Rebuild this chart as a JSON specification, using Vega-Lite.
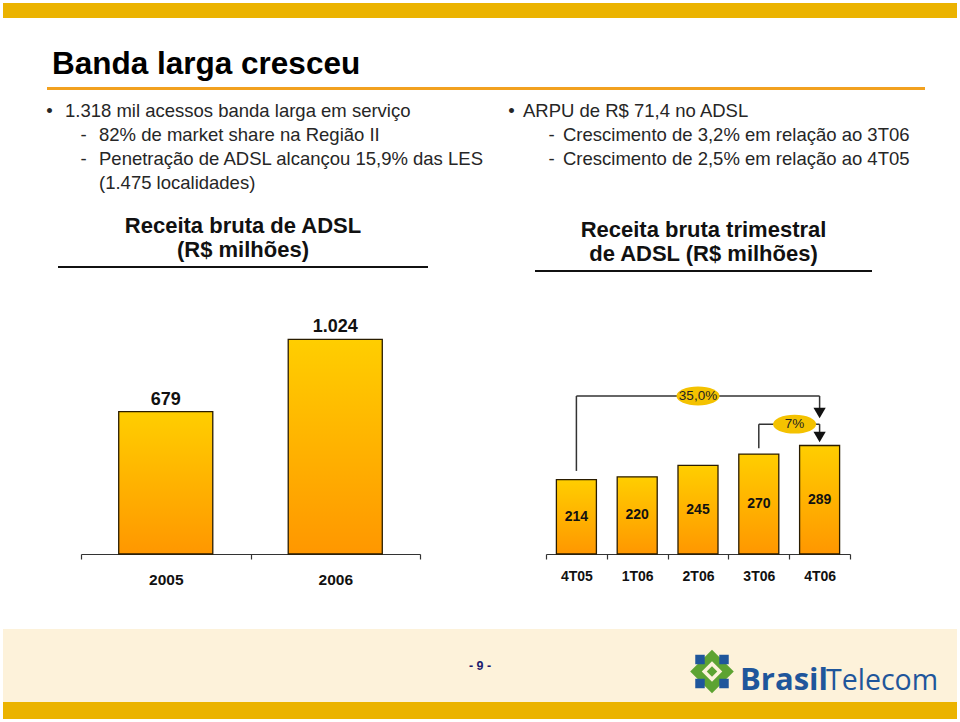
{
  "$schema": "https://vega.github.io/schema/vega-lite/v6.json",
  "background": "white",
  "padding": {"left": 3, "top": 3, "right": 3, "bottom": 4},
  "spacing": 0,
  "config": {
    "view": {"stroke": null},
    "font": "Liberation Sans",
    "concat": {"spacing": 0},
    "locale": {"number": {"decimal": ",", "thousands": ".", "grouping": [3], "currency": ["R$ ", ""]}}
  },
  "datasets": {
    "vazio": [],
    "topicos_esq": [
      {"linha": 1, "nivel": 1, "marcador": "•", "texto": "1.318 mil acessos banda larga em serviço"},
      {"linha": 2, "nivel": 2, "marcador": "-", "texto": "82% de market share na Região II"},
      {"linha": 3, "nivel": 2, "marcador": "-", "texto": "Penetração de ADSL alcançou 15,9% das LES"},
      {"linha": 4, "nivel": 2, "marcador": "", "texto": "(1.475 localidades)"}
    ],
    "topicos_dir": [
      {"linha": 1, "nivel": 1, "marcador": "•", "texto": "ARPU de R$ 71,4 no ADSL"},
      {"linha": 2, "nivel": 2, "marcador": "-", "texto": "Crescimento de 3,2% em relação ao 3T06"},
      {"linha": 3, "nivel": 2, "marcador": "-", "texto": "Crescimento de 2,5% em relação ao 4T05"}
    ],
    "receita_anual": [
      {"ano": "2005", "receita": 679},
      {"ano": "2006", "receita": 1024}
    ],
    "receita_trimestral": [
      {"trimestre": "4T05", "receita": 214},
      {"trimestre": "1T06", "receita": 220},
      {"trimestre": "2T06", "receita": 245},
      {"trimestre": "3T06", "receita": 270},
      {"trimestre": "4T06", "receita": 289}
    ],
    "variacao": [
      {"rotulo": "35,0%", "de": "4T05", "ate": "4T06", "rotulo_em": "2T06", "base_de": 233, "altura": 398, "base_ate": 371.5},
      {"rotulo": "7%", "de": "3T06", "ate": "4T06", "rotulo_em": "4T06", "base_de": 283, "altura": 336, "base_ate": 318.7}
    ],
    "logo": [
      {"parte": "Brasil"},
      {"parte": "Telecom"}
    ]
  },
  "vconcat": [
    {"width": 954, "height": 15, "view": {"fill": "#EBB300"}, "data": {"name": "vazio"}, "mark": "point"},
    {"width": 954, "height": 29.5, "data": {"name": "vazio"}, "mark": "point"},
    {
      "spacing": 0, "bounds": "flush",
      "hconcat": [
        {"width": 44, "height": 3, "data": {"name": "vazio"}, "mark": "point"},
        {
          "width": 878, "height": 3, "view": {"fill": "#F2A11F"}, "data": {"name": "vazio"}, "mark": "point",
          "title": {"text": "Banda larga cresceu", "anchor": "start", "fontSize": 31.5, "fontWeight": "bold", "color": "#000000", "font": "Liberation Sans", "offset": 7, "dx": 5}
        }
      ]
    },
    {
      "spacing": 0,
      "hconcat": [
        {
          "spacing": 0,
          "vconcat": [
            {"width": 490, "height": 9, "data": {"name": "vazio"}, "mark": "point"},
            {
              "width": 490, "height": 96, "data": {"name": "topicos_esq"},
              "encoding": {
                "y": {"field": "linha", "type": "ordinal", "scale": {"domain": [1, 2, 3, 4], "padding": 0.5}, "axis": null},
                "x": {"field": "nivel", "type": "ordinal", "scale": {"domain": [1, 2], "range": [46.5, 80.5], "padding": 0}, "axis": null}
              },
              "layer": [
                {"mark": {"type": "text", "align": "center", "baseline": "middle", "fontSize": 18.5, "color": "#262626"}, "encoding": {"text": {"field": "marcador"}}},
                {"mark": {"type": "text", "align": "left", "baseline": "middle", "dx": 15.5, "fontSize": 18.5, "color": "#262626"}, "encoding": {"text": {"field": "texto"}}}
              ]
            },
            {"width": 490, "height": 20, "data": {"name": "vazio"}, "mark": "point"},
            {
              "spacing": 0, "bounds": "flush",
              "hconcat": [
                {"width": 55, "height": 2, "data": {"name": "vazio"}, "mark": "point"},
                {
                  "width": 370, "height": 2, "view": {"fill": "#111111"}, "data": {"name": "vazio"}, "mark": "point",
                  "title": {"text": ["Receita bruta de ADSL", "(R$ milhões)"], "anchor": "middle", "fontSize": 22, "fontWeight": "bold", "color": "#111111", "font": "Liberation Sans", "lineHeight": 24, "offset": 4}
                }
              ]
            },
            {"width": 490, "height": 45, "data": {"name": "vazio"}, "mark": "point"},
            {
              "spacing": 0, "bounds": "flush",
              "hconcat": [
                {"width": 78, "height": 241, "data": {"name": "vazio"}, "mark": "point"},
                {
                  "width": 339, "height": 241, "data": {"name": "receita_anual"},
                  "encoding": {
                    "x": {
                      "field": "ano", "type": "nominal", "title": null,
                      "scale": {"paddingInner": 0, "paddingOuter": 0},
                      "axis": {"labelAngle": 0, "tickBand": "extent", "domainColor": "#333333", "domainWidth": 1.2, "tickColor": "#333333", "tickWidth": 1.2, "tickSize": 5, "labelFontSize": 15.5, "labelFontWeight": "bold", "labelColor": "#111111", "labelPadding": 13, "labelFont": "Liberation Sans", "grid": false}
                    },
                    "y": {"field": "receita", "type": "quantitative", "scale": {"domain": [0, 1150], "nice": false}, "axis": null}
                  },
                  "layer": [
                    {
                      "mark": {
                        "type": "bar", "width": {"band": 0.555},
                        "fill": {"gradient": "linear", "x1": 0, "y1": 0, "x2": 0, "y2": 1, "stops": [{"offset": 0, "color": "#FFCE00"}, {"offset": 1, "color": "#FF9700"}]},
                        "stroke": "#2a1c00", "strokeWidth": 1.3
                      }
                    },
                    {
                      "mark": {"type": "text", "baseline": "middle", "dy": -12, "fontSize": 18, "fontWeight": "bold", "color": "#111111"},
                      "encoding": {"text": {"field": "receita", "type": "quantitative", "format": ",d"}}
                    }
                  ]
                }
              ]
            }
          ]
        },
        {
          "spacing": 0,
          "vconcat": [
            {"width": 464, "height": 9, "data": {"name": "vazio"}, "mark": "point"},
            {
              "width": 464, "height": 96, "data": {"name": "topicos_dir"},
              "encoding": {
                "y": {"field": "linha", "type": "ordinal", "scale": {"domain": [1, 2, 3, 4], "padding": 0.5}, "axis": null},
                "x": {"field": "nivel", "type": "ordinal", "scale": {"domain": [1, 2], "range": [18.5, 58.5], "padding": 0}, "axis": null}
              },
              "layer": [
                {"mark": {"type": "text", "align": "center", "baseline": "middle", "fontSize": 18.5, "color": "#262626"}, "encoding": {"text": {"field": "marcador"}}},
                {"mark": {"type": "text", "align": "left", "baseline": "middle", "dx": 11.5, "fontSize": 18.5, "color": "#262626"}, "encoding": {"text": {"field": "texto"}}}
              ]
            },
            {"width": 464, "height": 24, "data": {"name": "vazio"}, "mark": "point"},
            {
              "spacing": 0, "bounds": "flush",
              "hconcat": [
                {"width": 42, "height": 2, "data": {"name": "vazio"}, "mark": "point"},
                {
                  "width": 337, "height": 2, "view": {"fill": "#111111"}, "data": {"name": "vazio"}, "mark": "point",
                  "title": {"text": ["Receita bruta trimestral", "de ADSL (R$ milhões)"], "anchor": "middle", "fontSize": 22, "fontWeight": "bold", "color": "#111111", "font": "Liberation Sans", "lineHeight": 24, "offset": 4}
                }
              ]
            },
            {"width": 464, "height": 114, "data": {"name": "vazio"}, "mark": "point"},
            {
              "spacing": 0, "bounds": "flush",
              "hconcat": [
                {"width": 53, "height": 168, "data": {"name": "vazio"}, "mark": "point"},
                {
                  "width": 304, "height": 168,
                  "resolve": {"scale": {"y": "independent"}},
                  "layer": [
                    {
                      "data": {"name": "receita_trimestral"},
                      "mark": {
                        "type": "bar", "width": {"band": 0.658},
                        "fill": {"gradient": "linear", "x1": 0, "y1": 0, "x2": 0, "y2": 1, "stops": [{"offset": 0, "color": "#FFCE00"}, {"offset": 1, "color": "#FF9700"}]},
                        "stroke": "#2a1c00", "strokeWidth": 1.3
                      },
                      "encoding": {
                        "x": {
                          "field": "trimestre", "type": "ordinal", "title": null,
                          "scale": {"domain": ["4T05", "1T06", "2T06", "3T06", "4T06"], "paddingInner": 0, "paddingOuter": 0},
                          "axis": {"labelAngle": 0, "tickBand": "extent", "domainColor": "#333333", "domainWidth": 1.2, "tickColor": "#333333", "tickWidth": 1.2, "tickSize": 5, "labelFontSize": 14, "labelFontWeight": "bold", "labelColor": "#111111", "labelPadding": 10, "labelFont": "Liberation Sans", "grid": false}
                        },
                        "y": {"field": "receita", "type": "quantitative", "scale": {"domain": [50, 420], "zero": false, "nice": false}, "axis": null},
                        "y2": {"datum": 50}
                      }
                    },
                    {
                      "data": {"name": "receita_trimestral"},
                      "mark": {"type": "text", "baseline": "middle", "fontSize": 14, "fontWeight": "bold", "color": "#111111"},
                      "encoding": {
                        "x": {"field": "trimestre", "type": "ordinal", "title": null},
                        "y": {"field": "receita", "type": "quantitative", "scale": {"domain": [50, 790], "zero": false, "nice": false}, "axis": null},
                        "text": {"field": "receita", "type": "quantitative", "format": ",d"}
                      }
                    },
                    {
                      "data": {"name": "variacao"},
                      "mark": {"type": "rule", "color": "#333333", "strokeWidth": 1.5},
                      "encoding": {
                        "x": {"field": "de", "type": "ordinal", "title": null},
                        "y": {"field": "base_de", "type": "quantitative", "scale": {"domain": [50, 420], "zero": false, "nice": false}, "axis": null},
                        "y2": {"field": "altura"}
                      }
                    },
                    {
                      "data": {"name": "variacao"},
                      "mark": {"type": "rule", "color": "#333333", "strokeWidth": 1.5},
                      "encoding": {
                        "x": {"field": "de", "type": "ordinal", "title": null},
                        "x2": {"field": "ate"},
                        "y": {"field": "altura", "type": "quantitative", "scale": {"domain": [50, 420], "zero": false, "nice": false}, "axis": null}
                      }
                    },
                    {
                      "data": {"name": "variacao"},
                      "mark": {"type": "rule", "color": "#333333", "strokeWidth": 1.5},
                      "encoding": {
                        "x": {"field": "ate", "type": "ordinal", "title": null},
                        "y": {"field": "altura", "type": "quantitative", "scale": {"domain": [50, 420], "zero": false, "nice": false}, "axis": null},
                        "y2": {"field": "base_ate"}
                      }
                    },
                    {
                      "data": {"name": "variacao"},
                      "mark": {"type": "point", "shape": "triangle-down", "size": 150, "filled": true, "fill": "#111111", "opacity": 1, "strokeWidth": 0, "yOffset": 5},
                      "encoding": {
                        "x": {"field": "ate", "type": "ordinal", "title": null},
                        "y": {"field": "base_ate", "type": "quantitative", "scale": {"domain": [50, 420], "zero": false, "nice": false}, "axis": null}
                      }
                    },
                    {
                      "data": {"name": "variacao"},
                      "transform": [{"filter": "datum.rotulo === '35,0%'"}],
                      "mark": {"type": "point", "shape": "M -1 0 C -1 -0.243 -0.552 -0.44 0 -0.44 C 0.552 -0.44 1 -0.243 1 0 C 1 0.243 0.552 0.44 0 0.44 C -0.552 0.44 -1 0.243 -1 0 Z", "size": 1849, "filled": true, "fill": "#F4C200", "opacity": 1, "strokeWidth": 0},
                      "encoding": {
                        "x": {"field": "rotulo_em", "type": "ordinal", "title": null},
                        "y": {"field": "altura", "type": "quantitative", "scale": {"domain": [50, 420], "zero": false, "nice": false}, "axis": null}
                      }
                    },
                    {
                      "data": {"name": "variacao"},
                      "transform": [{"filter": "datum.rotulo === '35,0%'"}],
                      "mark": {"type": "text", "baseline": "middle", "fontSize": 13.5, "color": "#222222"},
                      "encoding": {
                        "x": {"field": "rotulo_em", "type": "ordinal", "title": null},
                        "y": {"field": "altura", "type": "quantitative", "scale": {"domain": [50, 420], "zero": false, "nice": false}, "axis": null},
                        "text": {"field": "rotulo"}
                      }
                    },
                    {
                      "data": {"name": "variacao"},
                      "transform": [{"filter": "datum.rotulo === '7%'"}],
                      "mark": {"type": "point", "shape": "M -1 0 C -1 -0.243 -0.552 -0.44 0 -0.44 C 0.552 -0.44 1 -0.243 1 0 C 1 0.243 0.552 0.44 0 0.44 C -0.552 0.44 -1 0.243 -1 0 Z", "size": 1849, "filled": true, "fill": "#F4C200", "opacity": 1, "strokeWidth": 0, "xOffset": -25},
                      "encoding": {
                        "x": {"field": "rotulo_em", "type": "ordinal", "title": null},
                        "y": {"field": "altura", "type": "quantitative", "scale": {"domain": [50, 420], "zero": false, "nice": false}, "axis": null}
                      }
                    },
                    {
                      "data": {"name": "variacao"},
                      "transform": [{"filter": "datum.rotulo === '7%'"}],
                      "mark": {"type": "text", "baseline": "middle", "fontSize": 13.5, "color": "#222222", "xOffset": -25},
                      "encoding": {
                        "x": {"field": "rotulo_em", "type": "ordinal", "title": null},
                        "y": {"field": "altura", "type": "quantitative", "scale": {"domain": [50, 420], "zero": false, "nice": false}, "axis": null},
                        "text": {"field": "rotulo"}
                      }
                    }
                  ]
                }
              ]
            }
          ]
        }
      ]
    },
    {"width": 954, "height": 41, "data": {"name": "vazio"}, "mark": "point"},
    {
      "width": 954, "height": 73, "view": {"fill": "#FDF2DA"},
      "layer": [
        {
          "data": {"values": [{"pagina": "- 9 -"}]},
          "mark": {"type": "text", "baseline": "middle", "fontSize": 12.5, "fontWeight": "bold", "color": "#1B1B6F"},
          "encoding": {"text": {"field": "pagina"}}
        },
        {
          "data": {"name": "logo"},
          "transform": [{"filter": "datum.parte === 'Brasil'"}],
          "mark": {"type": "point", "shape": "diamond", "size": 1900, "filled": true, "fill": "#5DA332", "opacity": 1, "strokeWidth": 0, "xOffset": -28, "yOffset": 6},
          "encoding": {"x": {"field": "parte", "type": "nominal", "scale": {"domain": ["Brasil", "Telecom"], "range": [737, 823], "padding": 0}, "axis": null}}
        },
        {
          "data": {"name": "logo"},
          "transform": [{"filter": "datum.parte === 'Brasil'"}],
          "mark": {"type": "point", "shape": "diamond", "size": 420, "filled": true, "fill": "#FDF2DA", "opacity": 1, "strokeWidth": 0, "xOffset": -28, "yOffset": 6},
          "encoding": {"x": {"field": "parte", "type": "nominal", "axis": null}}
        },
        {
          "data": {"name": "logo"},
          "transform": [{"filter": "datum.parte === 'Brasil'"}],
          "mark": {"type": "point", "shape": "diamond", "size": 110, "filled": true, "fill": "#5DA332", "opacity": 1, "strokeWidth": 0, "xOffset": -28, "yOffset": 6},
          "encoding": {"x": {"field": "parte", "type": "nominal", "axis": null}}
        },
        {
          "data": {"name": "logo"},
          "transform": [{"filter": "datum.parte === 'Brasil'"}],
          "mark": {"type": "point", "shape": "square", "size": 90, "filled": true, "fill": "#1F569B", "opacity": 1, "strokeWidth": 0, "xOffset": -40, "yOffset": -6},
          "encoding": {"x": {"field": "parte", "type": "nominal", "axis": null}}
        },
        {
          "data": {"name": "logo"},
          "transform": [{"filter": "datum.parte === 'Brasil'"}],
          "mark": {"type": "point", "shape": "square", "size": 90, "filled": true, "fill": "#1F569B", "opacity": 1, "strokeWidth": 0, "xOffset": -16, "yOffset": -6},
          "encoding": {"x": {"field": "parte", "type": "nominal", "axis": null}}
        },
        {
          "data": {"name": "logo"},
          "transform": [{"filter": "datum.parte === 'Brasil'"}],
          "mark": {"type": "point", "shape": "square", "size": 90, "filled": true, "fill": "#1F569B", "opacity": 1, "strokeWidth": 0, "xOffset": -16, "yOffset": 18},
          "encoding": {"x": {"field": "parte", "type": "nominal", "axis": null}}
        },
        {
          "data": {"name": "logo"},
          "transform": [{"filter": "datum.parte === 'Brasil'"}],
          "mark": {"type": "point", "shape": "square", "size": 90, "filled": true, "fill": "#1F569B", "opacity": 1, "strokeWidth": 0, "xOffset": -40, "yOffset": 18},
          "encoding": {"x": {"field": "parte", "type": "nominal", "axis": null}}
        },
        {
          "data": {"name": "logo"},
          "transform": [{"filter": "datum.parte === 'Brasil'"}],
          "mark": {"type": "text", "align": "left", "baseline": "alphabetic", "dy": 24.5, "font": "Open Sans", "fontSize": 31, "fontWeight": "bold", "color": "#1F569B"},
          "encoding": {"x": {"field": "parte", "type": "nominal", "axis": null}, "text": {"field": "parte"}}
        },
        {
          "data": {"name": "logo"},
          "transform": [{"filter": "datum.parte === 'Telecom'"}],
          "mark": {"type": "text", "align": "left", "baseline": "alphabetic", "dy": 24.5, "font": "Open Sans", "fontSize": 28.5, "fontWeight": "normal", "color": "#1F569B"},
          "encoding": {"x": {"field": "parte", "type": "nominal", "axis": null}, "text": {"field": "parte"}}
        }
      ]
    },
    {"width": 954, "height": 17, "view": {"fill": "#EBB300"}, "data": {"name": "vazio"}, "mark": "point"}
  ]
}
